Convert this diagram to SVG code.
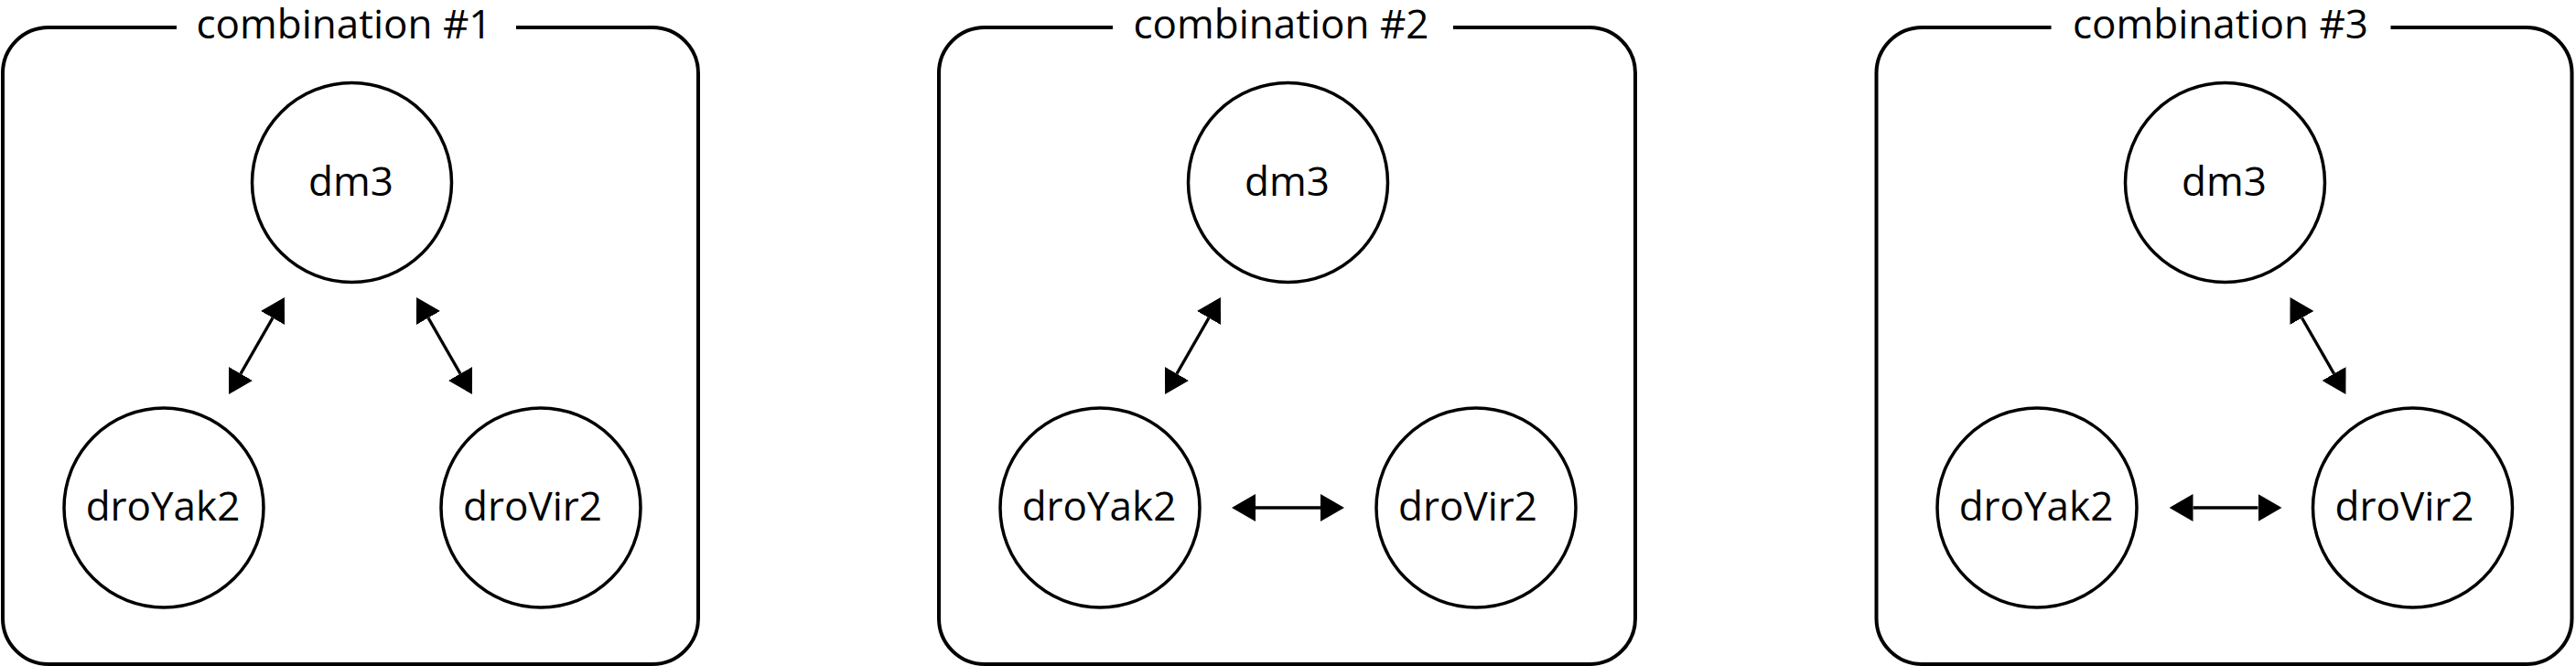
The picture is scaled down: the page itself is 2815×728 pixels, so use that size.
<svg xmlns="http://www.w3.org/2000/svg" width="2815" height="728" viewBox="0 0 2815 728">
  <style>
    .frame { fill: none; stroke: #000; stroke-width: 4; stroke-linecap: butt; }
    .title { font-family: "Open Sans", "Liberation Sans", sans-serif; font-size: 44px; fill: #000; text-anchor: middle; }
    .node circle { fill: #fff; stroke: #000; stroke-width: 3.5; }
    .node text { font-family: "Open Sans", "Liberation Sans", sans-serif; font-size: 44px; fill: #000; text-anchor: middle; }
    .edge { stroke: #000; stroke-width: 3.4; fill: none; marker-start: url(#tri); marker-end: url(#tri); }
  </style>
  <defs>
    <marker id="tri" markerUnits="userSpaceOnUse" viewBox="0 0 26 30" markerWidth="26" markerHeight="30" refX="0" refY="15" orient="auto-start-reverse">
      <path d="M0,0 L26,15 L0,30 Z" fill="#000"/>
    </marker>
  </defs>
  <rect width="2815" height="728" fill="#fff"/>

  <!-- Panel 1 -->
  <g id="panel1">
    <path class="frame" d="M193,30 H53 A50,50 0 0 0 3,80 V676 A50,50 0 0 0 53,726 H713 A50,50 0 0 0 763,676 V80 A50,50 0 0 0 713,30 H564"/>
    <text class="title" x="376" y="42">combination #1</text>
    <g id="p1-dm3" class="node"><circle cx="384.5" cy="199.5" r="109"/><text x="383.5" y="214">dm3</text></g>
    <g id="p1-droYak2" class="node"><circle cx="179" cy="555" r="109"/><text x="178" y="569">droYak2</text></g>
    <g id="p1-droVir2" class="node"><circle cx="591" cy="555" r="109"/><text x="582" y="569">droVir2</text></g>
  </g>

  <!-- Panel 2 -->
  <g id="panel2" transform="translate(1023,0)">
    <path class="frame" d="M193,30 H53 A50,50 0 0 0 3,80 V676 A50,50 0 0 0 53,726 H714 A50,50 0 0 0 764,676 V80 A50,50 0 0 0 714,30 H565"/>
    <text class="title" x="377" y="42">combination #2</text>
    <g id="p2-dm3" class="node"><circle cx="384.5" cy="199.5" r="109"/><text x="383.5" y="214">dm3</text></g>
    <g id="p2-droYak2" class="node"><circle cx="179" cy="555" r="109"/><text x="178" y="569">droYak2</text></g>
    <g id="p2-droVir2" class="node"><circle cx="590" cy="555" r="109"/><text x="581" y="569">droVir2</text></g>
  </g>

  <!-- Panel 3 -->
  <g id="panel3" transform="translate(2047.5,0)">
    <path class="frame" d="M194,30 H53 A50,50 0 0 0 3,80 V676 A50,50 0 0 0 53,726 H713 A50,50 0 0 0 763,676 V80 A50,50 0 0 0 713,30 H565"/>
    <text class="title" x="379" y="42">combination #3</text>
    <g id="p3-dm3" class="node"><circle cx="384" cy="199.5" r="109"/><text x="383" y="214">dm3</text></g>
    <g id="p3-droYak2" class="node"><circle cx="178.5" cy="555" r="109"/><text x="177.5" y="569">droYak2</text></g>
    <g id="p3-droVir2" class="node"><circle cx="589" cy="555" r="109"/><text x="580" y="569">droVir2</text></g>
  </g>

  <!-- Connectors -->
  <g id="connectors">
    <line class="edge" x1="263" y1="408.5" x2="298" y2="347.5"/>
    <line class="edge" x1="468" y1="347.5" x2="503" y2="408.5"/>
    <g transform="translate(1023,0)">
      <line class="edge" x1="263" y1="408.5" x2="298" y2="347.5"/>
      <line class="edge" x1="349" y1="555" x2="420" y2="555"/>
    </g>
    <g transform="translate(2047.5,0)">
      <line class="edge" x1="468" y1="347.5" x2="503" y2="408.5"/>
      <line class="edge" x1="349" y1="555" x2="420" y2="555"/>
    </g>
  </g>
</svg>
